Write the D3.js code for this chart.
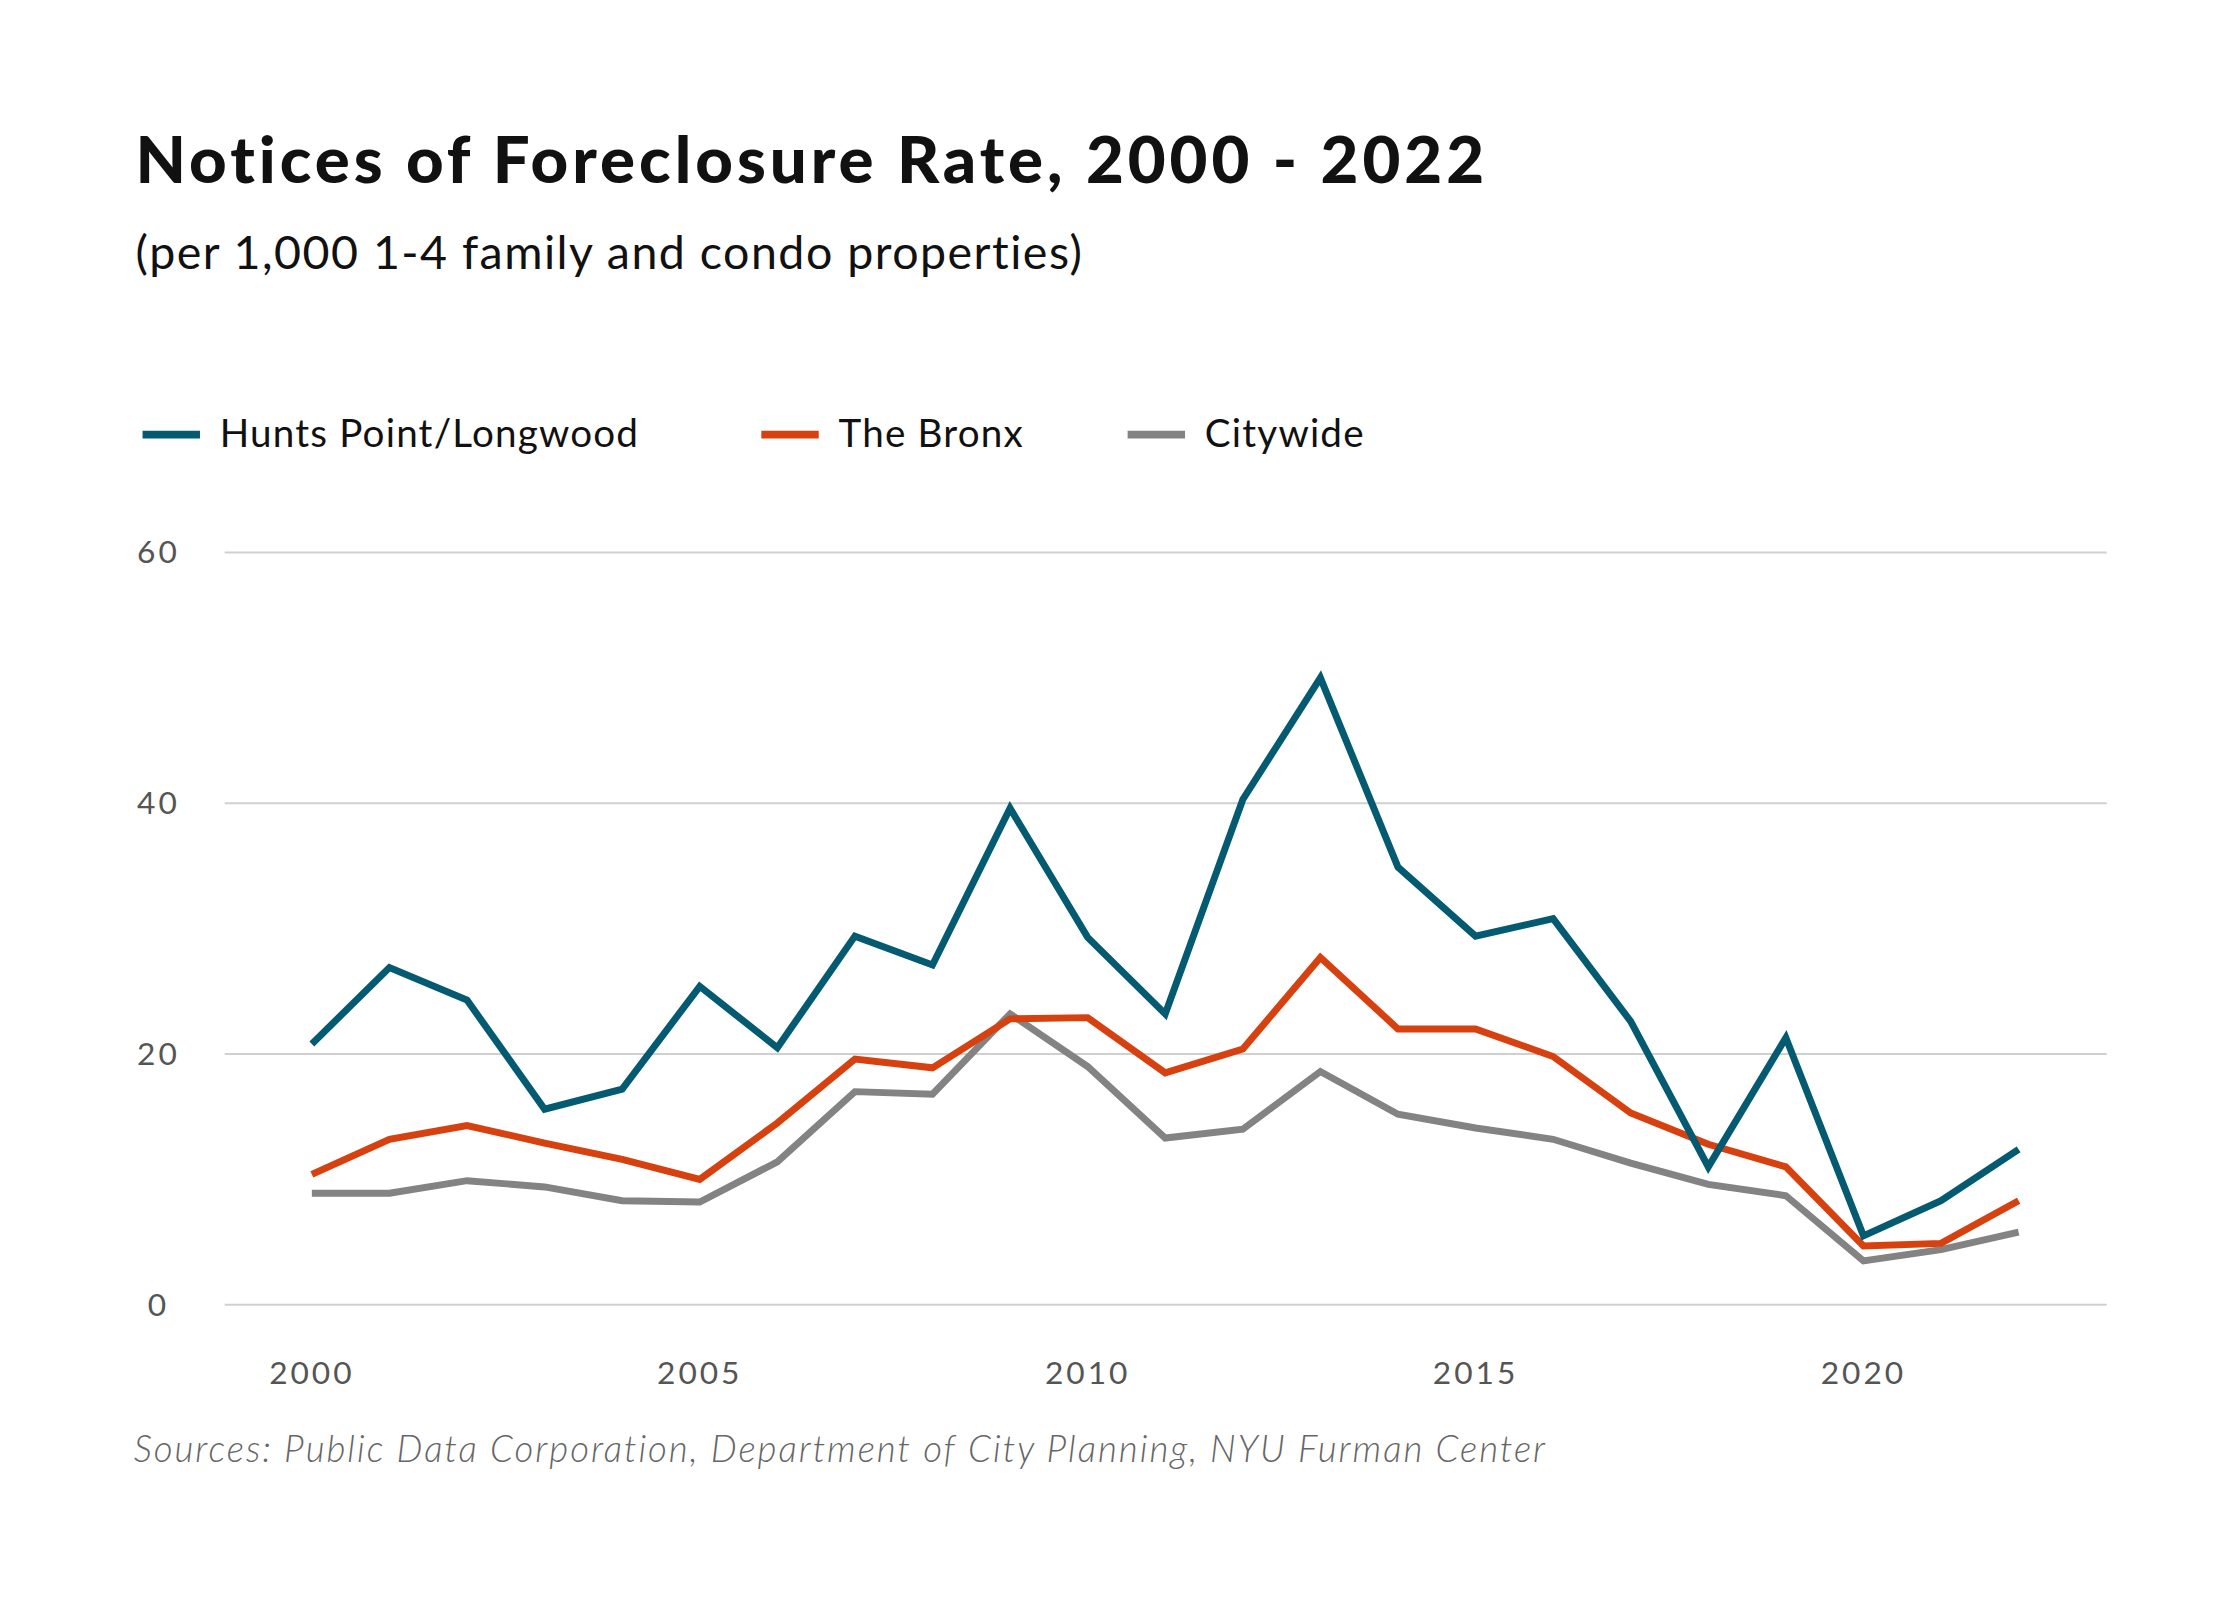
<!DOCTYPE html>
<html><head><meta charset="utf-8">
<script src="https://cdn.jsdelivr.net/npm/d3@7"></script>
<style>body{margin:0;background:#fff;font-family:Lato,"Open Sans",sans-serif}</style>
</head><body><div id="chart"></div>
<script>
// values
const years = d3.range(2000, 2023);
const huntsPoint = [20.8,26.9,24.3,15.6,17.2,25.4,20.5,29.4,27.1,39.6,29.3,23.2,40.3,50.0,34.9,29.4,30.8,22.6,11.0,21.3,5.5,8.3,12.4];
const bronx = [10.4,13.2,14.3,12.9,11.6,10.0,14.5,19.6,18.9,22.8,22.9,18.5,20.4,27.7,22.0,22.0,19.8,15.3,12.8,11.0,4.7,4.9,8.3];
const citywide = [8.9,8.9,9.9,9.4,8.3,8.2,11.4,17.0,16.8,23.2,19.0,13.3,14.0,18.6,15.2,14.1,13.2,11.3,9.6,8.7,3.5,4.4,5.8];
const yTicks = [0,20,40,60];
const xTicks = [2000,2005,2010,2015,2020];

const series = [
  {name:"Hunts Point/Longwood", values:huntsPoint, color:"#045a71", lx:144},
  {name:"The Bronx", values:bronx, color:"#d6410f", lx:769},
  {name:"Citywide", values:citywide, color:"#838383", lx:1139}
];

function main(){
  const width = 2240, height = 1600;
  const svg = d3.select("#chart").append("svg").attr("width", width).attr("height", height)
    .append("g").attr("transform","scale(0.99)");

  svg.append("text").attr("x",137).attr("y",185).text("Notices of Foreclosure Rate, 2000 - 2022")
    .attr("font-size",66).attr("font-weight",900).attr("letter-spacing",4).attr("fill","#111");
  svg.append("text").attr("x",137).attr("y",272).text("(per 1,000 1-4 family and condo properties)")
    .attr("font-size",47).attr("letter-spacing",1.5).attr("fill","#111");

  // legend
  series.forEach(s => {
    svg.append("line").attr("x1",s.lx).attr("x2",s.lx+58).attr("y1",439).attr("y2",439)
      .attr("stroke",s.color).attr("stroke-width",8);
    svg.append("text").attr("x",s.lx+78).attr("y",452).text(s.name)
      .attr("font-size",39).attr("letter-spacing",1.2).attr("fill","#111");
  });

  const x = d3.scaleLinear().domain([2000,2022]).range([315,2039]);
  const y = d3.scaleLinear().domain([0,60]).range([1318,558]);

  svg.append("g").selectAll("line").data(yTicks).enter().append("line")
    .attr("x1",227).attr("x2",2128).attr("y1",d=>y(d)).attr("y2",d=>y(d))
    .attr("stroke","#d0d0d0").attr("stroke-width",2);
  svg.append("g").selectAll("text").data(yTicks).enter().append("text")
    .attr("x",160).attr("y",d=>y(d)+11).attr("text-anchor","middle")
    .text(d=>d).attr("font-size",32).attr("fill","#555").attr("letter-spacing",3);
  svg.append("g").selectAll("text").data(xTicks).enter().append("text")
    .attr("x",d=>x(d)).attr("y",1398).attr("text-anchor","middle")
    .text(d=>d).attr("font-size",32).attr("fill","#555").attr("letter-spacing",3);

  const line = d3.line().x((d,i)=>x(years[i])).y(d=>y(d));
  // grey first so teal stays on top
  [series[2], series[1], series[0]].forEach(s => {
    svg.append("path").datum(s.values).attr("d",line).attr("fill","none")
      .attr("stroke",s.color).attr("stroke-width",7).attr("stroke-linejoin","miter");
  });

  svg.append("text").attr("x",135).attr("y",1477)
    .text("Sources: Public Data Corporation, Department of City Planning, NYU Furman Center")
    .attr("font-size",37).attr("font-style","italic").attr("font-weight",300)
    .attr("letter-spacing",2).attr("fill","#666");
}
window.onload = main;
</script></body></html>
